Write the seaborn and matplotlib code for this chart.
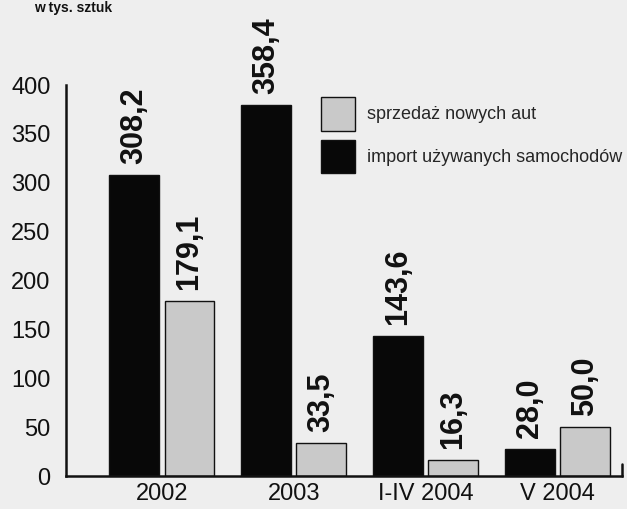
import pandas as pd
import numpy as np
import matplotlib.pyplot as plt
import seaborn as sns

# data (values in thousands)
categories = ['2002', '2003', 'I-IV 2004', 'V 2004']
series_names = ['import używanych samochodów', 'sprzedaż nowych aut']
import_used = [308.2, 380.0, 143.6, 28.0]
new_sales = [179.1, 33.5, 16.3, 50.0]
import_labels = ['308,2', '358,4', '143,6', '28,0']
new_labels = ['179,1', '33,5', '16,3', '50,0']
y_ticks = [0, 50, 100, 150, 200, 250, 300, 350, 400]

df = pd.DataFrame({
    'okres': categories * 2,
    'seria': [series_names[0]] * 4 + [series_names[1]] * 4,
    'wartosc': import_used + new_sales,
})

sns.set_style('white')
plt.rcParams['font.family'] = ['Liberation Sans', 'DejaVu Sans']

bg = '#eeeeee'
fig = plt.figure(figsize=(6.27, 5.09), dpi=100, facecolor=bg)
ax = fig.add_axes([0.1053, 0.0648, 0.8867, 0.768])
ax.set_facecolor(bg)

sns.barplot(data=df, x='okres', y='wartosc', hue='seria', hue_order=series_names,
            palette=['#080808', '#c9c9c9'], width=0.84, gap=0.1,
            edgecolor='#111111', linewidth=1.0, saturation=1, ax=ax, legend=True)

for cont, labs in zip(ax.containers, [import_labels, new_labels]):
    ax.bar_label(cont, labels=labs, rotation=90, padding=8, fontsize=22,
                 fontweight='bold', color='#111111', clip_on=False)

ax.set_ylim(0, 400)
ax.set_xlim(-0.727, 3.49)
ax.set_yticks(y_ticks)
ax.set_xlabel('')
ax.set_ylabel('')
ax.tick_params(axis='y', labelsize=17, length=8, width=1.5, direction='out',
               colors='#111111', pad=3)
ax.tick_params(axis='x', labelsize=17, length=0, pad=5, colors='#111111')
sns.despine(ax=ax, top=True, right=True)
for side in ['left', 'bottom']:
    ax.spines[side].set_linewidth(1.8)
    ax.spines[side].set_color('#111111')
ax.axvline(3.49, ymin=0, ymax=0.03, color='#111111', lw=1.8, clip_on=False)

# legend: gray entry first, like the original
handles, labels = ax.get_legend_handles_labels()
leg = ax.legend(handles[::-1], labels[::-1], loc='upper left',
                bbox_to_anchor=(0.442, 0.993), frameon=False, borderpad=0,
                handlelength=1.9, handleheight=2.5, handletextpad=0.65,
                labelspacing=0.5, prop={'size': 13})

# unit note in the top-left corner (cut by the page edge in the original)
fig.text(0.055, 0.998, 'w tys. sztuk', fontsize=10, fontweight='bold',
         ha='left', va='top', color='#111111')

fig.savefig('out.png', dpi=100, facecolor=bg)
